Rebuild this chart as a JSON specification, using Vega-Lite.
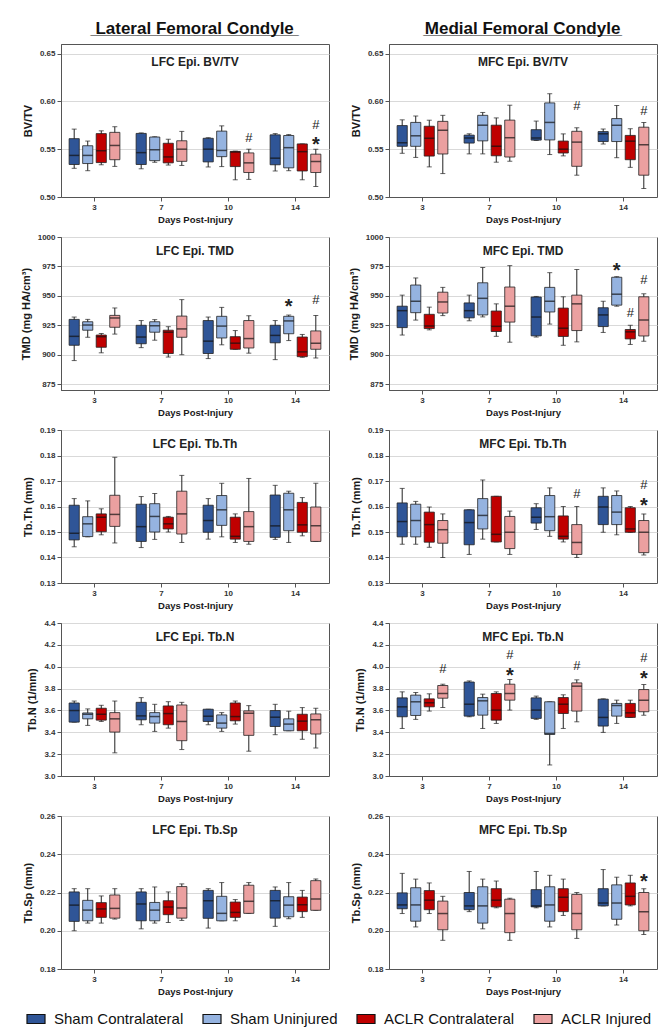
{
"$schema":"https://vega.github.io/schema/vega-lite/v6.json",
"padding":{"left":19,"top":19,"right":2,"bottom":3},
"background":"white",
"datasets":{
"box":[
{"p":"LBV","day":3,"grp":"Sham Contralateral","lo":0.530,"q1":0.534,"md":0.5435,"q3":0.561,"hi":0.571},
{"p":"LBV","day":3,"grp":"Sham Uninjured","lo":0.5275,"q1":0.535,"md":0.5435,"q3":0.5536,"hi":0.5585},
{"p":"LBV","day":3,"grp":"ACLR Contralateral","lo":0.5337,"q1":0.536,"md":0.5484,"q3":0.5663,"hi":0.5692},
{"p":"LBV","day":3,"grp":"ACLR Injured","lo":0.532,"q1":0.539,"md":0.5539,"q3":0.5676,"hi":0.5735},
{"p":"LBV","day":7,"grp":"Sham Contralateral","lo":0.5295,"q1":0.534,"md":0.5464,"q3":0.5665,"hi":0.567},
{"p":"LBV","day":7,"grp":"Sham Uninjured","lo":0.5363,"q1":0.538,"md":0.5494,"q3":0.5627,"hi":0.563},
{"p":"LBV","day":7,"grp":"ACLR Contralateral","lo":0.5334,"q1":0.5357,"md":0.5419,"q3":0.5562,"hi":0.5604},
{"p":"LBV","day":7,"grp":"ACLR Injured","lo":0.533,"q1":0.5373,"md":0.55,"q3":0.5588,"hi":0.5686},
{"p":"LBV","day":10,"grp":"Sham Contralateral","lo":0.5314,"q1":0.5367,"md":0.55,"q3":0.5614,"hi":0.562},
{"p":"LBV","day":10,"grp":"Sham Uninjured","lo":0.5318,"q1":0.5422,"md":0.5487,"q3":0.5689,"hi":0.5744},
{"p":"LBV","day":10,"grp":"ACLR Contralateral","lo":0.518,"q1":0.5318,"md":0.547,"q3":0.5477,"hi":0.548},
{"p":"LBV","day":10,"grp":"ACLR Injured","lo":0.5184,"q1":0.5256,"md":0.5357,"q3":0.5461,"hi":0.55},
{"p":"LBV","day":14,"grp":"Sham Contralateral","lo":0.5272,"q1":0.5337,"md":0.5406,"q3":0.565,"hi":0.5663},
{"p":"LBV","day":14,"grp":"Sham Uninjured","lo":0.5275,"q1":0.5305,"md":0.5516,"q3":0.5643,"hi":0.5653},
{"p":"LBV","day":14,"grp":"ACLR Contralateral","lo":0.518,"q1":0.5272,"md":0.5474,"q3":0.5555,"hi":0.5555},
{"p":"LBV","day":14,"grp":"ACLR Injured","lo":0.511,"q1":0.5256,"md":0.537,"q3":0.5448,"hi":0.55},
{"p":"MBV","day":3,"grp":"Sham Contralateral","lo":0.5457,"q1":0.553,"md":0.5567,"q3":0.5747,"hi":0.5807},
{"p":"MBV","day":3,"grp":"Sham Uninjured","lo":0.5414,"q1":0.553,"md":0.564,"q3":0.578,"hi":0.5847},
{"p":"MBV","day":3,"grp":"ACLR Contralateral","lo":0.5315,"q1":0.5428,"md":0.5614,"q3":0.574,"hi":0.5803},
{"p":"MBV","day":3,"grp":"ACLR Injured","lo":0.5245,"q1":0.545,"md":0.5698,"q3":0.5791,"hi":0.5854},
{"p":"MBV","day":7,"grp":"Sham Contralateral","lo":0.5451,"q1":0.5564,"md":0.5617,"q3":0.5647,"hi":0.5661},
{"p":"MBV","day":7,"grp":"Sham Uninjured","lo":0.5451,"q1":0.5587,"md":0.5751,"q3":0.5854,"hi":0.5884},
{"p":"MBV","day":7,"grp":"ACLR Contralateral","lo":0.5364,"q1":0.5431,"md":0.5531,"q3":0.5751,"hi":0.5827},
{"p":"MBV","day":7,"grp":"ACLR Injured","lo":0.5374,"q1":0.5418,"md":0.562,"q3":0.5804,"hi":0.596},
{"p":"MBV","day":10,"grp":"Sham Contralateral","lo":0.5591,"q1":0.5595,"md":0.5617,"q3":0.5704,"hi":0.5794},
{"p":"MBV","day":10,"grp":"Sham Uninjured","lo":0.5444,"q1":0.5597,"md":0.578,"q3":0.5984,"hi":0.608},
{"p":"MBV","day":10,"grp":"ACLR Contralateral","lo":0.543,"q1":0.546,"md":0.55,"q3":0.5585,"hi":0.566},
{"p":"MBV","day":10,"grp":"ACLR Injured","lo":0.5228,"q1":0.5321,"md":0.5574,"q3":0.5687,"hi":0.5724},
{"p":"MBV","day":14,"grp":"Sham Contralateral","lo":0.5554,"q1":0.558,"md":0.5661,"q3":0.5684,"hi":0.5711},
{"p":"MBV","day":14,"grp":"Sham Uninjured","lo":0.5411,"q1":0.558,"md":0.575,"q3":0.582,"hi":0.5957},
{"p":"MBV","day":14,"grp":"ACLR Contralateral","lo":0.531,"q1":0.539,"md":0.5584,"q3":0.5644,"hi":0.5714},
{"p":"MBV","day":14,"grp":"ACLR Injured","lo":0.5088,"q1":0.5228,"md":0.5547,"q3":0.573,"hi":0.578},
{"p":"LTMD","day":3,"grp":"Sham Contralateral","lo":895,"q1":908,"md":915.6,"q3":930,"hi":932},
{"p":"LTMD","day":3,"grp":"Sham Uninjured","lo":914.8,"q1":920.8,"md":925.2,"q3":928,"hi":930},
{"p":"LTMD","day":3,"grp":"ACLR Contralateral","lo":901.6,"q1":906.3,"md":915.3,"q3":916.7,"hi":918},
{"p":"LTMD","day":3,"grp":"ACLR Injured","lo":917.5,"q1":923.3,"md":931.2,"q3":933.4,"hi":939.7},
{"p":"LTMD","day":7,"grp":"Sham Contralateral","lo":906,"q1":909.3,"md":915,"q3":925,"hi":929},
{"p":"LTMD","day":7,"grp":"Sham Uninjured","lo":912.3,"q1":919.1,"md":924.6,"q3":928,"hi":929.8},
{"p":"LTMD","day":7,"grp":"ACLR Contralateral","lo":898,"q1":901,"md":919.1,"q3":920.8,"hi":923.8},
{"p":"LTMD","day":7,"grp":"ACLR Injured","lo":900,"q1":914.8,"md":921.9,"q3":932.8,"hi":946.8},
{"p":"LTMD","day":10,"grp":"Sham Contralateral","lo":896.7,"q1":901,"md":911.5,"q3":929,"hi":932},
{"p":"LTMD","day":10,"grp":"Sham Uninjured","lo":908.4,"q1":914.2,"md":924.3,"q3":932.6,"hi":940.2},
{"p":"LTMD","day":10,"grp":"ACLR Contralateral","lo":904.6,"q1":904.6,"md":909.8,"q3":915.3,"hi":920.5},
{"p":"LTMD","day":10,"grp":"ACLR Injured","lo":901.3,"q1":905.7,"md":913.7,"q3":929,"hi":933.1},
{"p":"LTMD","day":14,"grp":"Sham Contralateral","lo":895.8,"q1":910.1,"md":916.4,"q3":925,"hi":929},
{"p":"LTMD","day":14,"grp":"Sham Uninjured","lo":912,"q1":917.8,"md":928.7,"q3":932.6,"hi":933.7},
{"p":"LTMD","day":14,"grp":"ACLR Contralateral","lo":897.8,"q1":898.3,"md":902.4,"q3":915,"hi":917.2},
{"p":"LTMD","day":14,"grp":"ACLR Injured","lo":897.2,"q1":904.6,"md":909.8,"q3":920.2,"hi":933.4},
{"p":"MTMD","day":3,"grp":"Sham Contralateral","lo":916.7,"q1":923,"md":937.4,"q3":941.2,"hi":950.6},
{"p":"MTMD","day":3,"grp":"Sham Uninjured","lo":929.4,"q1":935.7,"md":945.4,"q3":959.2,"hi":965.2},
{"p":"MTMD","day":3,"grp":"ACLR Contralateral","lo":921.1,"q1":922.2,"md":924.4,"q3":934.3,"hi":940.4},
{"p":"MTMD","day":3,"grp":"ACLR Injured","lo":933.2,"q1":935.4,"md":944.8,"q3":953.1,"hi":957.2},
{"p":"MTMD","day":7,"grp":"Sham Contralateral","lo":928.8,"q1":931.3,"md":937.4,"q3":944,"hi":950.6},
{"p":"MTMD","day":7,"grp":"Sham Uninjured","lo":932.1,"q1":933.8,"md":947.9,"q3":961.1,"hi":974.1},
{"p":"MTMD","day":7,"grp":"ACLR Contralateral","lo":915.6,"q1":919.7,"md":924.1,"q3":937.1,"hi":943.2},
{"p":"MTMD","day":7,"grp":"ACLR Injured","lo":910.6,"q1":927.7,"md":941.2,"q3":957.5,"hi":975.7},
{"p":"MTMD","day":10,"grp":"Sham Contralateral","lo":915,"q1":916,"md":932,"q3":949,"hi":949.5},
{"p":"MTMD","day":10,"grp":"Sham Uninjured","lo":926,"q1":936.3,"md":945.4,"q3":957.2,"hi":969.7},
{"p":"MTMD","day":10,"grp":"ACLR Contralateral","lo":908,"q1":915.5,"md":922.5,"q3":939.6,"hi":949.2},
{"p":"MTMD","day":10,"grp":"ACLR Injured","lo":910.9,"q1":920.5,"md":943.2,"q3":950.6,"hi":972.4},
{"p":"MTMD","day":14,"grp":"Sham Contralateral","lo":918.9,"q1":923.9,"md":933.8,"q3":939.9,"hi":945.4},
{"p":"MTMD","day":14,"grp":"Sham Uninjured","lo":941.2,"q1":942.1,"md":951.4,"q3":965.8,"hi":966.3},
{"p":"MTMD","day":14,"grp":"ACLR Contralateral","lo":908.7,"q1":913.4,"md":919.4,"q3":921.4,"hi":925},
{"p":"MTMD","day":14,"grp":"ACLR Injured","lo":911.4,"q1":915.9,"md":929.4,"q3":949.2,"hi":951.7},
{"p":"LTh","day":3,"grp":"Sham Contralateral","lo":0.1442,"q1":0.1469,"md":0.1495,"q3":0.1605,"hi":0.1631},
{"p":"LTh","day":3,"grp":"Sham Uninjured","lo":0.1481,"q1":0.1482,"md":0.1532,"q3":0.156,"hi":0.1622},
{"p":"LTh","day":3,"grp":"ACLR Contralateral","lo":0.1489,"q1":0.1501,"md":0.1558,"q3":0.1571,"hi":0.1591},
{"p":"LTh","day":3,"grp":"ACLR Injured","lo":0.1457,"q1":0.1522,"md":0.1569,"q3":0.1644,"hi":0.1793},
{"p":"LTh","day":7,"grp":"Sham Contralateral","lo":0.1439,"q1":0.1463,"md":0.1521,"q3":0.1609,"hi":0.1639},
{"p":"LTh","day":7,"grp":"Sham Uninjured","lo":0.1471,"q1":0.15,"md":0.1561,"q3":0.1611,"hi":0.1651},
{"p":"LTh","day":7,"grp":"ACLR Contralateral","lo":0.15,"q1":0.1512,"md":0.1532,"q3":0.1558,"hi":0.1561},
{"p":"LTh","day":7,"grp":"ACLR Injured","lo":0.1459,"q1":0.1492,"md":0.1571,"q3":0.166,"hi":0.1722},
{"p":"LTh","day":10,"grp":"Sham Contralateral","lo":0.1472,"q1":0.1499,"md":0.1545,"q3":0.1605,"hi":0.1631},
{"p":"LTh","day":10,"grp":"Sham Uninjured","lo":0.1481,"q1":0.1526,"md":0.1587,"q3":0.1643,"hi":0.1691},
{"p":"LTh","day":10,"grp":"ACLR Contralateral","lo":0.1459,"q1":0.1472,"md":0.1483,"q3":0.1558,"hi":0.1571},
{"p":"LTh","day":10,"grp":"ACLR Injured","lo":0.1452,"q1":0.1463,"md":0.1521,"q3":0.158,"hi":0.171},
{"p":"LTh","day":14,"grp":"Sham Contralateral","lo":0.1471,"q1":0.1479,"md":0.1524,"q3":0.1645,"hi":0.1683},
{"p":"LTh","day":14,"grp":"Sham Uninjured","lo":0.1459,"q1":0.1505,"md":0.1587,"q3":0.1652,"hi":0.166},
{"p":"LTh","day":14,"grp":"ACLR Contralateral","lo":0.1485,"q1":0.1499,"md":0.1528,"q3":0.1616,"hi":0.1635},
{"p":"LTh","day":14,"grp":"ACLR Injured","lo":0.1463,"q1":0.1463,"md":0.1525,"q3":0.1598,"hi":0.1691},
{"p":"MTh","day":3,"grp":"Sham Contralateral","lo":0.1452,"q1":0.1481,"md":0.1541,"q3":0.1614,"hi":0.1671},
{"p":"MTh","day":3,"grp":"Sham Uninjured","lo":0.1452,"q1":0.1481,"md":0.1545,"q3":0.1609,"hi":0.162},
{"p":"MTh","day":3,"grp":"ACLR Contralateral","lo":0.144,"q1":0.146,"md":0.1529,"q3":0.1578,"hi":0.1598},
{"p":"MTh","day":3,"grp":"ACLR Injured","lo":0.14,"q1":0.1456,"md":0.1509,"q3":0.1545,"hi":0.1571},
{"p":"MTh","day":7,"grp":"Sham Contralateral","lo":0.1412,"q1":0.145,"md":0.1537,"q3":0.1587,"hi":0.1587},
{"p":"MTh","day":7,"grp":"Sham Uninjured","lo":0.1472,"q1":0.1512,"md":0.1565,"q3":0.1631,"hi":0.1704},
{"p":"MTh","day":7,"grp":"ACLR Contralateral","lo":0.1461,"q1":0.1461,"md":0.1491,"q3":0.164,"hi":0.164},
{"p":"MTh","day":7,"grp":"ACLR Injured","lo":0.1412,"q1":0.1435,"md":0.1499,"q3":0.1561,"hi":0.1582},
{"p":"MTh","day":10,"grp":"Sham Contralateral","lo":0.151,"q1":0.1535,"md":0.1558,"q3":0.1595,"hi":0.1611},
{"p":"MTh","day":10,"grp":"Sham Uninjured","lo":0.1483,"q1":0.1505,"md":0.156,"q3":0.1643,"hi":0.1673},
{"p":"MTh","day":10,"grp":"ACLR Contralateral","lo":0.1461,"q1":0.1472,"md":0.1483,"q3":0.1563,"hi":0.16},
{"p":"MTh","day":10,"grp":"ACLR Injured","lo":0.14,"q1":0.1412,"md":0.1459,"q3":0.1529,"hi":0.16},
{"p":"MTh","day":14,"grp":"Sham Contralateral","lo":0.1499,"q1":0.1529,"md":0.1598,"q3":0.164,"hi":0.1673},
{"p":"MTh","day":14,"grp":"Sham Uninjured","lo":0.1489,"q1":0.1529,"md":0.1578,"q3":0.1643,"hi":0.1661},
{"p":"MTh","day":14,"grp":"ACLR Contralateral","lo":0.1499,"q1":0.1499,"md":0.1512,"q3":0.1595,"hi":0.16},
{"p":"MTh","day":14,"grp":"ACLR Injured","lo":0.141,"q1":0.1419,"md":0.1499,"q3":0.1545,"hi":0.1571},
{"p":"LTbN","day":3,"grp":"Sham Contralateral","lo":3.493,"q1":3.493,"md":3.599,"q3":3.668,"hi":3.686},
{"p":"LTbN","day":3,"grp":"Sham Uninjured","lo":3.463,"q1":3.523,"md":3.565,"q3":3.577,"hi":3.614},
{"p":"LTbN","day":3,"grp":"ACLR Contralateral","lo":3.499,"q1":3.511,"md":3.565,"q3":3.62,"hi":3.647},
{"p":"LTbN","day":3,"grp":"ACLR Injured","lo":3.212,"q1":3.402,"md":3.523,"q3":3.58,"hi":3.686},
{"p":"LTbN","day":7,"grp":"Sham Contralateral","lo":3.469,"q1":3.514,"md":3.55,"q3":3.674,"hi":3.717},
{"p":"LTbN","day":7,"grp":"Sham Uninjured","lo":3.408,"q1":3.484,"md":3.544,"q3":3.58,"hi":3.656},
{"p":"LTbN","day":7,"grp":"ACLR Contralateral","lo":3.438,"q1":3.469,"md":3.571,"q3":3.641,"hi":3.68},
{"p":"LTbN","day":7,"grp":"ACLR Injured","lo":3.242,"q1":3.323,"md":3.499,"q3":3.65,"hi":3.674},
{"p":"LTbN","day":10,"grp":"Sham Contralateral","lo":3.469,"q1":3.499,"md":3.547,"q3":3.611,"hi":3.611},
{"p":"LTbN","day":10,"grp":"Sham Uninjured","lo":3.408,"q1":3.438,"md":3.484,"q3":3.559,"hi":3.58},
{"p":"LTbN","day":10,"grp":"ACLR Contralateral","lo":3.475,"q1":3.505,"md":3.544,"q3":3.668,"hi":3.686},
{"p":"LTbN","day":10,"grp":"ACLR Injured","lo":3.227,"q1":3.372,"md":3.574,"q3":3.596,"hi":3.644},
{"p":"LTbN","day":14,"grp":"Sham Contralateral","lo":3.378,"q1":3.453,"md":3.538,"q3":3.599,"hi":3.656},
{"p":"LTbN","day":14,"grp":"Sham Uninjured","lo":3.414,"q1":3.414,"md":3.475,"q3":3.523,"hi":3.593},
{"p":"LTbN","day":14,"grp":"ACLR Contralateral","lo":3.336,"q1":3.414,"md":3.502,"q3":3.565,"hi":3.626},
{"p":"LTbN","day":14,"grp":"ACLR Injured","lo":3.257,"q1":3.384,"md":3.514,"q3":3.568,"hi":3.62},
{"p":"MTbN","day":3,"grp":"Sham Contralateral","lo":3.435,"q1":3.542,"md":3.633,"q3":3.715,"hi":3.77},
{"p":"MTbN","day":3,"grp":"Sham Uninjured","lo":3.518,"q1":3.554,"md":3.679,"q3":3.74,"hi":3.764},
{"p":"MTbN","day":3,"grp":"ACLR Contralateral","lo":3.594,"q1":3.633,"md":3.67,"q3":3.706,"hi":3.752},
{"p":"MTbN","day":3,"grp":"ACLR Injured","lo":3.627,"q1":3.712,"md":3.755,"q3":3.828,"hi":3.84},
{"p":"MTbN","day":7,"grp":"Sham Contralateral","lo":3.542,"q1":3.548,"md":3.657,"q3":3.86,"hi":3.87},
{"p":"MTbN","day":7,"grp":"Sham Uninjured","lo":3.435,"q1":3.557,"md":3.688,"q3":3.718,"hi":3.749},
{"p":"MTbN","day":7,"grp":"ACLR Contralateral","lo":3.481,"q1":3.511,"md":3.603,"q3":3.755,"hi":3.77},
{"p":"MTbN","day":7,"grp":"ACLR Injured","lo":3.603,"q1":3.694,"md":3.755,"q3":3.84,"hi":3.883},
{"p":"MTbN","day":10,"grp":"Sham Contralateral","lo":3.518,"q1":3.527,"md":3.603,"q3":3.715,"hi":3.731},
{"p":"MTbN","day":10,"grp":"Sham Uninjured","lo":3.101,"q1":3.38,"md":3.39,"q3":3.679,"hi":3.679},
{"p":"MTbN","day":10,"grp":"ACLR Contralateral","lo":3.435,"q1":3.572,"md":3.657,"q3":3.718,"hi":3.743},
{"p":"MTbN","day":10,"grp":"ACLR Injured","lo":3.496,"q1":3.594,"md":3.822,"q3":3.852,"hi":3.88},
{"p":"MTbN","day":14,"grp":"Sham Contralateral","lo":3.399,"q1":3.457,"md":3.536,"q3":3.703,"hi":3.706},
{"p":"MTbN","day":14,"grp":"Sham Uninjured","lo":3.481,"q1":3.548,"md":3.645,"q3":3.664,"hi":3.694},
{"p":"MTbN","day":14,"grp":"ACLR Contralateral","lo":3.536,"q1":3.536,"md":3.578,"q3":3.664,"hi":3.694},
{"p":"MTbN","day":14,"grp":"ACLR Injured","lo":3.557,"q1":3.588,"md":3.694,"q3":3.791,"hi":3.837},
{"p":"LSp","day":3,"grp":"Sham Contralateral","lo":0.2,"q1":0.2049,"md":0.2134,"q3":0.2203,"hi":0.222},
{"p":"LSp","day":3,"grp":"Sham Uninjured","lo":0.204,"q1":0.2052,"md":0.2108,"q3":0.2159,"hi":0.222},
{"p":"LSp","day":3,"grp":"ACLR Contralateral","lo":0.204,"q1":0.207,"md":0.2114,"q3":0.2147,"hi":0.2182},
{"p":"LSp","day":3,"grp":"ACLR Injured","lo":0.2061,"q1":0.2066,"md":0.2117,"q3":0.2187,"hi":0.222},
{"p":"LSp","day":7,"grp":"Sham Contralateral","lo":0.201,"q1":0.2052,"md":0.214,"q3":0.2203,"hi":0.222},
{"p":"LSp","day":7,"grp":"Sham Uninjured","lo":0.204,"q1":0.2052,"md":0.2108,"q3":0.2148,"hi":0.2229},
{"p":"LSp","day":7,"grp":"ACLR Contralateral","lo":0.2043,"q1":0.2084,"md":0.2124,"q3":0.2157,"hi":0.2203},
{"p":"LSp","day":7,"grp":"ACLR Injured","lo":0.2054,"q1":0.2066,"md":0.2119,"q3":0.2231,"hi":0.2245},
{"p":"LSp","day":10,"grp":"Sham Contralateral","lo":0.2014,"q1":0.2065,"md":0.2157,"q3":0.2211,"hi":0.222},
{"p":"LSp","day":10,"grp":"Sham Uninjured","lo":0.2052,"q1":0.2052,"md":0.2091,"q3":0.218,"hi":0.2252},
{"p":"LSp","day":10,"grp":"ACLR Contralateral","lo":0.2052,"q1":0.207,"md":0.2096,"q3":0.215,"hi":0.2163},
{"p":"LSp","day":10,"grp":"ACLR Injured","lo":0.2091,"q1":0.2091,"md":0.2154,"q3":0.2238,"hi":0.2252},
{"p":"LSp","day":14,"grp":"Sham Contralateral","lo":0.2023,"q1":0.2066,"md":0.2157,"q3":0.2211,"hi":0.2229},
{"p":"LSp","day":14,"grp":"Sham Uninjured","lo":0.2063,"q1":0.2073,"md":0.2134,"q3":0.2178,"hi":0.2252},
{"p":"LSp","day":14,"grp":"ACLR Contralateral","lo":0.207,"q1":0.21,"md":0.2136,"q3":0.2176,"hi":0.2211},
{"p":"LSp","day":14,"grp":"ACLR Injured","lo":0.2107,"q1":0.2107,"md":0.2166,"q3":0.2262,"hi":0.2271},
{"p":"MSp","day":3,"grp":"Sham Contralateral","lo":0.209,"q1":0.2115,"md":0.2135,"q3":0.2198,"hi":0.230},
{"p":"MSp","day":3,"grp":"Sham Uninjured","lo":0.202,"q1":0.205,"md":0.2135,"q3":0.2225,"hi":0.227},
{"p":"MSp","day":3,"grp":"ACLR Contralateral","lo":0.209,"q1":0.211,"md":0.216,"q3":0.221,"hi":0.225},
{"p":"MSp","day":3,"grp":"ACLR Injured","lo":0.195,"q1":0.2005,"md":0.209,"q3":0.2155,"hi":0.218},
{"p":"MSp","day":7,"grp":"Sham Contralateral","lo":0.210,"q1":0.211,"md":0.213,"q3":0.220,"hi":0.231},
{"p":"MSp","day":7,"grp":"Sham Uninjured","lo":0.201,"q1":0.204,"md":0.213,"q3":0.223,"hi":0.227},
{"p":"MSp","day":7,"grp":"ACLR Contralateral","lo":0.212,"q1":0.2125,"md":0.216,"q3":0.222,"hi":0.226},
{"p":"MSp","day":7,"grp":"ACLR Injured","lo":0.195,"q1":0.199,"md":0.209,"q3":0.2165,"hi":0.217},
{"p":"MSp","day":10,"grp":"Sham Contralateral","lo":0.212,"q1":0.2125,"md":0.213,"q3":0.2215,"hi":0.231},
{"p":"MSp","day":10,"grp":"Sham Uninjured","lo":0.202,"q1":0.205,"md":0.2135,"q3":0.223,"hi":0.229},
{"p":"MSp","day":10,"grp":"ACLR Contralateral","lo":0.208,"q1":0.210,"md":0.2175,"q3":0.222,"hi":0.227},
{"p":"MSp","day":10,"grp":"ACLR Injured","lo":0.196,"q1":0.2005,"md":0.209,"q3":0.219,"hi":0.220},
{"p":"MSp","day":14,"grp":"Sham Contralateral","lo":0.213,"q1":0.213,"md":0.2145,"q3":0.222,"hi":0.232},
{"p":"MSp","day":14,"grp":"Sham Uninjured","lo":0.203,"q1":0.206,"md":0.2145,"q3":0.224,"hi":0.228},
{"p":"MSp","day":14,"grp":"ACLR Contralateral","lo":0.213,"q1":0.2135,"md":0.218,"q3":0.225,"hi":0.229},
{"p":"MSp","day":14,"grp":"ACLR Injured","lo":0.198,"q1":0.200,"md":0.210,"q3":0.220,"hi":0.222}
],
"note":[
{"p":"LBV","day":10,"grp":"ACLR Injured","s":"#","v":0.562},
{"p":"LBV","day":14,"grp":"ACLR Injured","s":"#","v":0.5757},
{"p":"LBV","day":14,"grp":"ACLR Injured","s":"*","v":0.561},
{"p":"MBV","day":10,"grp":"ACLR Injured","s":"#","v":0.595},
{"p":"MBV","day":14,"grp":"ACLR Injured","s":"#","v":0.5904},
{"p":"LTMD","day":14,"grp":"Sham Uninjured","s":"*","v":945.7},
{"p":"LTMD","day":14,"grp":"ACLR Injured","s":"#","v":946.3},
{"p":"MTMD","day":14,"grp":"Sham Uninjured","s":"*","v":976},
{"p":"MTMD","day":14,"grp":"ACLR Contralateral","s":"#","v":935.7},
{"p":"MTMD","day":14,"grp":"ACLR Injured","s":"#","v":963.3},
{"p":"MTh","day":10,"grp":"ACLR Injured","s":"#","v":0.1648},
{"p":"MTh","day":14,"grp":"ACLR Injured","s":"#","v":0.1683},
{"p":"MTh","day":14,"grp":"ACLR Injured","s":"*","v":0.1627},
{"p":"MTbN","day":3,"grp":"ACLR Injured","s":"#","v":3.983},
{"p":"MTbN","day":7,"grp":"ACLR Injured","s":"#","v":4.111},
{"p":"MTbN","day":7,"grp":"ACLR Injured","s":"*","v":3.968},
{"p":"MTbN","day":10,"grp":"ACLR Injured","s":"#","v":4.007},
{"p":"MTbN","day":14,"grp":"ACLR Injured","s":"#","v":4.08},
{"p":"MTbN","day":14,"grp":"ACLR Injured","s":"*","v":3.944},
{"p":"MSp","day":14,"grp":"ACLR Injured","s":"*","v":0.2285}
]
},
"config":{
"font":"Liberation Sans",
"view":{"stroke":"#555","strokeWidth":1},
"axis":{"labelFontSize":8,"labelColor":"#333","labelFontWeight":"bold","titleFontSize":11,"titleFontWeight":"bold","titleColor":"#1a1a1a","domainColor":"#555","tickColor":"#555","gridColor":"#d9d9d9","tickSize":4,"labelPadding":2},
"axisX":{"grid":false,"labelAngle":0,"titleFontSize":9.5,"titlePadding":3},
"axisY":{"grid":true,"titlePadding":6,"tickCount":12,"labelOverlap":false},
"legend":{"orient":"bottom","direction":"horizontal","title":null,"labelFontSize":15,"labelColor":"#111","symbolType":"M-1,-0.5H1V0.5H-1Z","symbolSize":324,"symbolStrokeColor":"#111","symbolStrokeWidth":1.2,"symbolOpacity":1,"columnPadding":16,"labelOffset":8,"offset":13,"layout":{"bottom":{"anchor":"middle"}}},
"tick":{"bandSize":10}
},
"hconcat":[
{"title":{"text":"Lateral Femoral Condyle","subtitle":"______________________","fontSize":17,"fontWeight":"bold","subtitleFontSize":17,"subtitleFontWeight":"bold","subtitleColor":"#111","subtitlePadding":-17,"color":"#111","anchor":"middle","offset":6,"dx":20},
"spacing":8,
"vconcat":[
{"width":268,"height":153,"title":{"text":"LFC Epi. BV/TV","offset":-25,"fontSize":12,"fontWeight":"bold","color":"#222","anchor":"middle"},
"data":{"name":"box"},"transform":[{"filter":"datum.p == 'LBV'"}],
"encoding":{"x":{"field":"day","type":"ordinal","title":"Days Post-Injury","scale":{"paddingInner":0,"paddingOuter":0}},"xOffset":{"field":"grp","type":"nominal","sort":["Sham Contralateral","Sham Uninjured","ACLR Contralateral","ACLR Injured"],"scale":{"paddingInner":0.25,"paddingOuter":0.6}}},
"layer":[
{"mark":{"type":"rule","color":"#222","strokeWidth":1},"encoding":{"y":{"field":"lo","type":"quantitative","scale":{"domain":[0.5,0.65]},"axis":{"values":[0.5,0.55,0.6,0.65],"format":".2f"},"title":"BV/TV"},"y2":{"field":"hi"}}},
{"mark":{"type":"tick","color":"#222","size":5,"thickness":1},"encoding":{"y":{"field":"lo","type":"quantitative"}}},
{"mark":{"type":"tick","color":"#222","size":5,"thickness":1},"encoding":{"y":{"field":"hi","type":"quantitative"}}},
{"mark":{"type":"bar","stroke":"#222","strokeWidth":0.8},"encoding":{"y":{"field":"q1","type":"quantitative"},"y2":{"field":"q3"},"color":{"field":"grp","type":"nominal","scale":{"domain":["Sham Contralateral","Sham Uninjured","ACLR Contralateral","ACLR Injured"],"range":["#2F5597","#95B3E0","#C00000","#EBA0A0"]}}}},
{"mark":{"type":"tick","color":"#111","size":10,"thickness":1.5},"encoding":{"y":{"field":"md","type":"quantitative"}}},
{"data":{"name":"note"},"transform":[{"filter":"datum.p == 'LBV' && datum.s == '#'"}],"mark":{"type":"text","fontSize":13,"color":"#222"},"encoding":{"y":{"field":"v","type":"quantitative"},"text":{"field":"s"}}},
{"data":{"name":"note"},"transform":[{"filter":"datum.p == 'LBV' && datum.s == '*'"}],"mark":{"type":"text","fontSize":20,"fontWeight":"bold","color":"#222","dy":6},"encoding":{"y":{"field":"v","type":"quantitative"},"text":{"field":"s"}}}
]},
{"width":268,"height":153,"title":{"text":"LFC Epi. TMD","offset":-25,"fontSize":12,"fontWeight":"bold","color":"#222","anchor":"middle"},
"data":{"name":"box"},"transform":[{"filter":"datum.p == 'LTMD'"}],
"encoding":{"x":{"field":"day","type":"ordinal","title":"Days Post-Injury","scale":{"paddingInner":0,"paddingOuter":0}},"xOffset":{"field":"grp","type":"nominal","sort":["Sham Contralateral","Sham Uninjured","ACLR Contralateral","ACLR Injured"],"scale":{"paddingInner":0.25,"paddingOuter":0.6}}},
"layer":[
{"mark":{"type":"rule","color":"#222","strokeWidth":1},"encoding":{"y":{"field":"lo","type":"quantitative","scale":{"domain":[875,1000]},"axis":{"values":[875,900,925,950,975,1000],"format":"d"},"title":"TMD (mg HA/cm³)"},"y2":{"field":"hi"}}},
{"mark":{"type":"tick","color":"#222","size":5,"thickness":1},"encoding":{"y":{"field":"lo","type":"quantitative"}}},
{"mark":{"type":"tick","color":"#222","size":5,"thickness":1},"encoding":{"y":{"field":"hi","type":"quantitative"}}},
{"mark":{"type":"bar","stroke":"#222","strokeWidth":0.8},"encoding":{"y":{"field":"q1","type":"quantitative"},"y2":{"field":"q3"},"color":{"field":"grp","type":"nominal","scale":{"domain":["Sham Contralateral","Sham Uninjured","ACLR Contralateral","ACLR Injured"],"range":["#2F5597","#95B3E0","#C00000","#EBA0A0"]}}}},
{"mark":{"type":"tick","color":"#111","size":10,"thickness":1.5},"encoding":{"y":{"field":"md","type":"quantitative"}}},
{"data":{"name":"note"},"transform":[{"filter":"datum.p == 'LTMD' && datum.s == '#'"}],"mark":{"type":"text","fontSize":13,"color":"#222"},"encoding":{"y":{"field":"v","type":"quantitative"},"text":{"field":"s"}}},
{"data":{"name":"note"},"transform":[{"filter":"datum.p == 'LTMD' && datum.s == '*'"}],"mark":{"type":"text","fontSize":20,"fontWeight":"bold","color":"#222","dy":6},"encoding":{"y":{"field":"v","type":"quantitative"},"text":{"field":"s"}}}
]},
{"width":268,"height":153,"title":{"text":"LFC Epi. Tb.Th","offset":-25,"fontSize":12,"fontWeight":"bold","color":"#222","anchor":"middle"},
"data":{"name":"box"},"transform":[{"filter":"datum.p == 'LTh'"}],
"encoding":{"x":{"field":"day","type":"ordinal","title":"Days Post-Injury","scale":{"paddingInner":0,"paddingOuter":0}},"xOffset":{"field":"grp","type":"nominal","sort":["Sham Contralateral","Sham Uninjured","ACLR Contralateral","ACLR Injured"],"scale":{"paddingInner":0.25,"paddingOuter":0.6}}},
"layer":[
{"mark":{"type":"rule","color":"#222","strokeWidth":1},"encoding":{"y":{"field":"lo","type":"quantitative","scale":{"domain":[0.13,0.19]},"axis":{"values":[0.13,0.14,0.15,0.16,0.17,0.18,0.19],"format":".2f"},"title":"Tb.Th (mm)"},"y2":{"field":"hi"}}},
{"mark":{"type":"tick","color":"#222","size":5,"thickness":1},"encoding":{"y":{"field":"lo","type":"quantitative"}}},
{"mark":{"type":"tick","color":"#222","size":5,"thickness":1},"encoding":{"y":{"field":"hi","type":"quantitative"}}},
{"mark":{"type":"bar","stroke":"#222","strokeWidth":0.8},"encoding":{"y":{"field":"q1","type":"quantitative"},"y2":{"field":"q3"},"color":{"field":"grp","type":"nominal","scale":{"domain":["Sham Contralateral","Sham Uninjured","ACLR Contralateral","ACLR Injured"],"range":["#2F5597","#95B3E0","#C00000","#EBA0A0"]}}}},
{"mark":{"type":"tick","color":"#111","size":10,"thickness":1.5},"encoding":{"y":{"field":"md","type":"quantitative"}}}
]},
{"width":268,"height":153,"title":{"text":"LFC Epi. Tb.N","offset":-25,"fontSize":12,"fontWeight":"bold","color":"#222","anchor":"middle"},
"data":{"name":"box"},"transform":[{"filter":"datum.p == 'LTbN'"}],
"encoding":{"x":{"field":"day","type":"ordinal","title":"Days Post-Injury","scale":{"paddingInner":0,"paddingOuter":0}},"xOffset":{"field":"grp","type":"nominal","sort":["Sham Contralateral","Sham Uninjured","ACLR Contralateral","ACLR Injured"],"scale":{"paddingInner":0.25,"paddingOuter":0.6}}},
"layer":[
{"mark":{"type":"rule","color":"#222","strokeWidth":1},"encoding":{"y":{"field":"lo","type":"quantitative","scale":{"domain":[3.0,4.4]},"axis":{"values":[3.0,3.2,3.4,3.6,3.8,4.0,4.2,4.4],"format":".1f"},"title":"Tb.N (1/mm)"},"y2":{"field":"hi"}}},
{"mark":{"type":"tick","color":"#222","size":5,"thickness":1},"encoding":{"y":{"field":"lo","type":"quantitative"}}},
{"mark":{"type":"tick","color":"#222","size":5,"thickness":1},"encoding":{"y":{"field":"hi","type":"quantitative"}}},
{"mark":{"type":"bar","stroke":"#222","strokeWidth":0.8},"encoding":{"y":{"field":"q1","type":"quantitative"},"y2":{"field":"q3"},"color":{"field":"grp","type":"nominal","scale":{"domain":["Sham Contralateral","Sham Uninjured","ACLR Contralateral","ACLR Injured"],"range":["#2F5597","#95B3E0","#C00000","#EBA0A0"]}}}},
{"mark":{"type":"tick","color":"#111","size":10,"thickness":1.5},"encoding":{"y":{"field":"md","type":"quantitative"}}}
]},
{"width":268,"height":153,"title":{"text":"LFC Epi. Tb.Sp","offset":-25,"fontSize":12,"fontWeight":"bold","color":"#222","anchor":"middle"},
"data":{"name":"box"},"transform":[{"filter":"datum.p == 'LSp'"}],
"encoding":{"x":{"field":"day","type":"ordinal","title":"Days Post-Injury","scale":{"paddingInner":0,"paddingOuter":0}},"xOffset":{"field":"grp","type":"nominal","sort":["Sham Contralateral","Sham Uninjured","ACLR Contralateral","ACLR Injured"],"scale":{"paddingInner":0.25,"paddingOuter":0.6}}},
"layer":[
{"mark":{"type":"rule","color":"#222","strokeWidth":1},"encoding":{"y":{"field":"lo","type":"quantitative","scale":{"domain":[0.18,0.26]},"axis":{"values":[0.18,0.2,0.22,0.24,0.26],"format":".2f"},"title":"Tb.Sp (mm)"},"y2":{"field":"hi"}}},
{"mark":{"type":"tick","color":"#222","size":5,"thickness":1},"encoding":{"y":{"field":"lo","type":"quantitative"}}},
{"mark":{"type":"tick","color":"#222","size":5,"thickness":1},"encoding":{"y":{"field":"hi","type":"quantitative"}}},
{"mark":{"type":"bar","stroke":"#222","strokeWidth":0.8},"encoding":{"y":{"field":"q1","type":"quantitative"},"y2":{"field":"q3"},"color":{"field":"grp","type":"nominal","scale":{"domain":["Sham Contralateral","Sham Uninjured","ACLR Contralateral","ACLR Injured"],"range":["#2F5597","#95B3E0","#C00000","#EBA0A0"]}}}},
{"mark":{"type":"tick","color":"#111","size":10,"thickness":1.5},"encoding":{"y":{"field":"md","type":"quantitative"}}}
]}
]},
{"title":{"text":"Medial Femoral Condyle","subtitle":"_____________________","fontSize":17,"fontWeight":"bold","subtitleFontSize":17,"subtitleFontWeight":"bold","subtitleColor":"#111","subtitlePadding":-17,"color":"#111","anchor":"middle","offset":6,"dx":20},
"spacing":8,
"vconcat":[
{"width":268,"height":153,"title":{"text":"MFC Epi. BV/TV","offset":-25,"fontSize":12,"fontWeight":"bold","color":"#222","anchor":"middle"},
"data":{"name":"box"},"transform":[{"filter":"datum.p == 'MBV'"}],
"encoding":{"x":{"field":"day","type":"ordinal","title":"Days Post-Injury","scale":{"paddingInner":0,"paddingOuter":0}},"xOffset":{"field":"grp","type":"nominal","sort":["Sham Contralateral","Sham Uninjured","ACLR Contralateral","ACLR Injured"],"scale":{"paddingInner":0.25,"paddingOuter":0.6}}},
"layer":[
{"mark":{"type":"rule","color":"#222","strokeWidth":1},"encoding":{"y":{"field":"lo","type":"quantitative","scale":{"domain":[0.5,0.65]},"axis":{"values":[0.5,0.55,0.6,0.65],"format":".2f"},"title":"BV/TV"},"y2":{"field":"hi"}}},
{"mark":{"type":"tick","color":"#222","size":5,"thickness":1},"encoding":{"y":{"field":"lo","type":"quantitative"}}},
{"mark":{"type":"tick","color":"#222","size":5,"thickness":1},"encoding":{"y":{"field":"hi","type":"quantitative"}}},
{"mark":{"type":"bar","stroke":"#222","strokeWidth":0.8},"encoding":{"y":{"field":"q1","type":"quantitative"},"y2":{"field":"q3"},"color":{"field":"grp","type":"nominal","scale":{"domain":["Sham Contralateral","Sham Uninjured","ACLR Contralateral","ACLR Injured"],"range":["#2F5597","#95B3E0","#C00000","#EBA0A0"]}}}},
{"mark":{"type":"tick","color":"#111","size":10,"thickness":1.5},"encoding":{"y":{"field":"md","type":"quantitative"}}},
{"data":{"name":"note"},"transform":[{"filter":"datum.p == 'MBV' && datum.s == '#'"}],"mark":{"type":"text","fontSize":13,"color":"#222"},"encoding":{"y":{"field":"v","type":"quantitative"},"text":{"field":"s"}}}
]},
{"width":268,"height":153,"title":{"text":"MFC Epi. TMD","offset":-25,"fontSize":12,"fontWeight":"bold","color":"#222","anchor":"middle"},
"data":{"name":"box"},"transform":[{"filter":"datum.p == 'MTMD'"}],
"encoding":{"x":{"field":"day","type":"ordinal","title":"Days Post-Injury","scale":{"paddingInner":0,"paddingOuter":0}},"xOffset":{"field":"grp","type":"nominal","sort":["Sham Contralateral","Sham Uninjured","ACLR Contralateral","ACLR Injured"],"scale":{"paddingInner":0.25,"paddingOuter":0.6}}},
"layer":[
{"mark":{"type":"rule","color":"#222","strokeWidth":1},"encoding":{"y":{"field":"lo","type":"quantitative","scale":{"domain":[875,1000]},"axis":{"values":[875,900,925,950,975,1000],"format":"d"},"title":"TMD (mg HA/cm³)"},"y2":{"field":"hi"}}},
{"mark":{"type":"tick","color":"#222","size":5,"thickness":1},"encoding":{"y":{"field":"lo","type":"quantitative"}}},
{"mark":{"type":"tick","color":"#222","size":5,"thickness":1},"encoding":{"y":{"field":"hi","type":"quantitative"}}},
{"mark":{"type":"bar","stroke":"#222","strokeWidth":0.8},"encoding":{"y":{"field":"q1","type":"quantitative"},"y2":{"field":"q3"},"color":{"field":"grp","type":"nominal","scale":{"domain":["Sham Contralateral","Sham Uninjured","ACLR Contralateral","ACLR Injured"],"range":["#2F5597","#95B3E0","#C00000","#EBA0A0"]}}}},
{"mark":{"type":"tick","color":"#111","size":10,"thickness":1.5},"encoding":{"y":{"field":"md","type":"quantitative"}}},
{"data":{"name":"note"},"transform":[{"filter":"datum.p == 'MTMD' && datum.s == '#'"}],"mark":{"type":"text","fontSize":13,"color":"#222"},"encoding":{"y":{"field":"v","type":"quantitative"},"text":{"field":"s"}}},
{"data":{"name":"note"},"transform":[{"filter":"datum.p == 'MTMD' && datum.s == '*'"}],"mark":{"type":"text","fontSize":20,"fontWeight":"bold","color":"#222","dy":6},"encoding":{"y":{"field":"v","type":"quantitative"},"text":{"field":"s"}}}
]},
{"width":268,"height":153,"title":{"text":"MFC Epi. Tb.Th","offset":-25,"fontSize":12,"fontWeight":"bold","color":"#222","anchor":"middle"},
"data":{"name":"box"},"transform":[{"filter":"datum.p == 'MTh'"}],
"encoding":{"x":{"field":"day","type":"ordinal","title":"Days Post-Injury","scale":{"paddingInner":0,"paddingOuter":0}},"xOffset":{"field":"grp","type":"nominal","sort":["Sham Contralateral","Sham Uninjured","ACLR Contralateral","ACLR Injured"],"scale":{"paddingInner":0.25,"paddingOuter":0.6}}},
"layer":[
{"mark":{"type":"rule","color":"#222","strokeWidth":1},"encoding":{"y":{"field":"lo","type":"quantitative","scale":{"domain":[0.13,0.19]},"axis":{"values":[0.13,0.14,0.15,0.16,0.17,0.18,0.19],"format":".2f"},"title":"Tb.Th (mm)"},"y2":{"field":"hi"}}},
{"mark":{"type":"tick","color":"#222","size":5,"thickness":1},"encoding":{"y":{"field":"lo","type":"quantitative"}}},
{"mark":{"type":"tick","color":"#222","size":5,"thickness":1},"encoding":{"y":{"field":"hi","type":"quantitative"}}},
{"mark":{"type":"bar","stroke":"#222","strokeWidth":0.8},"encoding":{"y":{"field":"q1","type":"quantitative"},"y2":{"field":"q3"},"color":{"field":"grp","type":"nominal","scale":{"domain":["Sham Contralateral","Sham Uninjured","ACLR Contralateral","ACLR Injured"],"range":["#2F5597","#95B3E0","#C00000","#EBA0A0"]}}}},
{"mark":{"type":"tick","color":"#111","size":10,"thickness":1.5},"encoding":{"y":{"field":"md","type":"quantitative"}}},
{"data":{"name":"note"},"transform":[{"filter":"datum.p == 'MTh' && datum.s == '#'"}],"mark":{"type":"text","fontSize":13,"color":"#222"},"encoding":{"y":{"field":"v","type":"quantitative"},"text":{"field":"s"}}},
{"data":{"name":"note"},"transform":[{"filter":"datum.p == 'MTh' && datum.s == '*'"}],"mark":{"type":"text","fontSize":20,"fontWeight":"bold","color":"#222","dy":6},"encoding":{"y":{"field":"v","type":"quantitative"},"text":{"field":"s"}}}
]},
{"width":268,"height":153,"title":{"text":"MFC Epi. Tb.N","offset":-25,"fontSize":12,"fontWeight":"bold","color":"#222","anchor":"middle"},
"data":{"name":"box"},"transform":[{"filter":"datum.p == 'MTbN'"}],
"encoding":{"x":{"field":"day","type":"ordinal","title":"Days Post-Injury","scale":{"paddingInner":0,"paddingOuter":0}},"xOffset":{"field":"grp","type":"nominal","sort":["Sham Contralateral","Sham Uninjured","ACLR Contralateral","ACLR Injured"],"scale":{"paddingInner":0.25,"paddingOuter":0.6}}},
"layer":[
{"mark":{"type":"rule","color":"#222","strokeWidth":1},"encoding":{"y":{"field":"lo","type":"quantitative","scale":{"domain":[3.0,4.4]},"axis":{"values":[3.0,3.2,3.4,3.6,3.8,4.0,4.2,4.4],"format":".1f"},"title":"Tb.N (1/mm)"},"y2":{"field":"hi"}}},
{"mark":{"type":"tick","color":"#222","size":5,"thickness":1},"encoding":{"y":{"field":"lo","type":"quantitative"}}},
{"mark":{"type":"tick","color":"#222","size":5,"thickness":1},"encoding":{"y":{"field":"hi","type":"quantitative"}}},
{"mark":{"type":"bar","stroke":"#222","strokeWidth":0.8},"encoding":{"y":{"field":"q1","type":"quantitative"},"y2":{"field":"q3"},"color":{"field":"grp","type":"nominal","scale":{"domain":["Sham Contralateral","Sham Uninjured","ACLR Contralateral","ACLR Injured"],"range":["#2F5597","#95B3E0","#C00000","#EBA0A0"]}}}},
{"mark":{"type":"tick","color":"#111","size":10,"thickness":1.5},"encoding":{"y":{"field":"md","type":"quantitative"}}},
{"data":{"name":"note"},"transform":[{"filter":"datum.p == 'MTbN' && datum.s == '#'"}],"mark":{"type":"text","fontSize":13,"color":"#222"},"encoding":{"y":{"field":"v","type":"quantitative"},"text":{"field":"s"}}},
{"data":{"name":"note"},"transform":[{"filter":"datum.p == 'MTbN' && datum.s == '*'"}],"mark":{"type":"text","fontSize":20,"fontWeight":"bold","color":"#222","dy":6},"encoding":{"y":{"field":"v","type":"quantitative"},"text":{"field":"s"}}}
]},
{"width":268,"height":153,"title":{"text":"MFC Epi. Tb.Sp","offset":-25,"fontSize":12,"fontWeight":"bold","color":"#222","anchor":"middle"},
"data":{"name":"box"},"transform":[{"filter":"datum.p == 'MSp'"}],
"encoding":{"x":{"field":"day","type":"ordinal","title":"Days Post-Injury","scale":{"paddingInner":0,"paddingOuter":0}},"xOffset":{"field":"grp","type":"nominal","sort":["Sham Contralateral","Sham Uninjured","ACLR Contralateral","ACLR Injured"],"scale":{"paddingInner":0.25,"paddingOuter":0.6}}},
"layer":[
{"mark":{"type":"rule","color":"#222","strokeWidth":1},"encoding":{"y":{"field":"lo","type":"quantitative","scale":{"domain":[0.18,0.26]},"axis":{"values":[0.18,0.2,0.22,0.24,0.26],"format":".2f"},"title":"Tb.Sp (mm)"},"y2":{"field":"hi"}}},
{"mark":{"type":"tick","color":"#222","size":5,"thickness":1},"encoding":{"y":{"field":"lo","type":"quantitative"}}},
{"mark":{"type":"tick","color":"#222","size":5,"thickness":1},"encoding":{"y":{"field":"hi","type":"quantitative"}}},
{"mark":{"type":"bar","stroke":"#222","strokeWidth":0.8},"encoding":{"y":{"field":"q1","type":"quantitative"},"y2":{"field":"q3"},"color":{"field":"grp","type":"nominal","scale":{"domain":["Sham Contralateral","Sham Uninjured","ACLR Contralateral","ACLR Injured"],"range":["#2F5597","#95B3E0","#C00000","#EBA0A0"]}}}},
{"mark":{"type":"tick","color":"#111","size":10,"thickness":1.5},"encoding":{"y":{"field":"md","type":"quantitative"}}},
{"data":{"name":"note"},"transform":[{"filter":"datum.p == 'MSp' && datum.s == '*'"}],"mark":{"type":"text","fontSize":20,"fontWeight":"bold","color":"#222","dy":6},"encoding":{"y":{"field":"v","type":"quantitative"},"text":{"field":"s"}}}
]}
]}
],
"spacing":17
}
